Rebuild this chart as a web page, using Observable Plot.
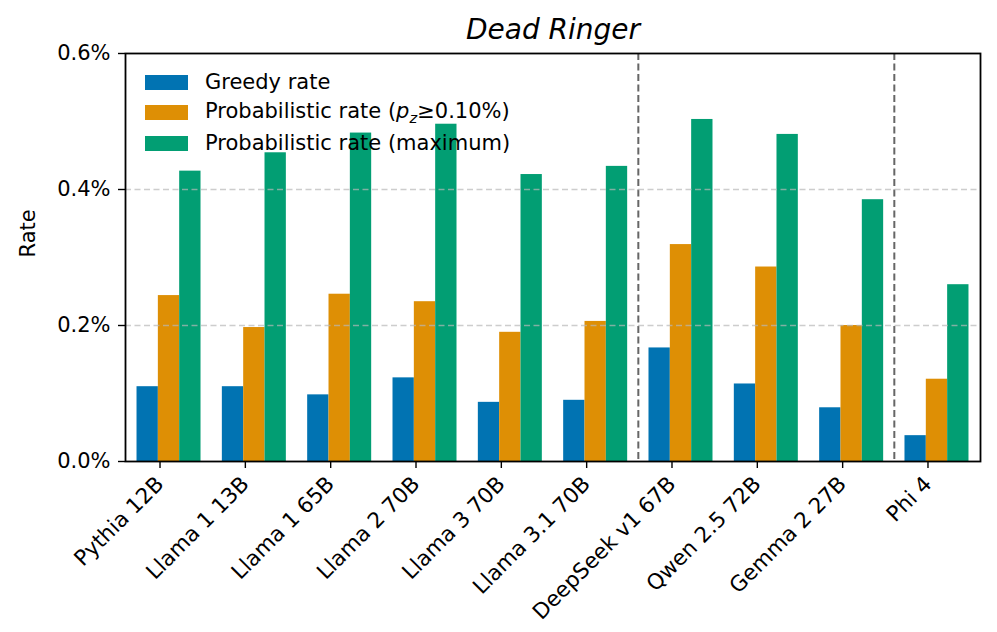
<!DOCTYPE html>
<html>
<head>
<meta charset="utf-8">
<script src="https://cdn.jsdelivr.net/npm/d3@7"></script>
<script src="https://cdn.jsdelivr.net/npm/@observablehq/plot@0.6"></script>
<style>
  body { margin: 0; background: #fff; font-family: "DejaVu Sans", sans-serif; }
  #wrap { position: relative; width: 997px; height: 632px; }
  #legend { position: absolute; left: 145px; top: 67px; font-size: 21px; color: #000; }
  .row { display: flex; align-items: center; height: 30.5px; }
  .sw { width: 43px; height: 15px; margin-right: 17px; }
</style>
</head>
<body>
<div id="wrap"><div id="legend"></div></div>
<script>
const title = "Dead Ringer";
const models = ["Pythia 12B", "Llama 1 13B", "Llama 1 65B", "Llama 2 70B", "Llama 3 70B",
  "Llama 3.1 70B", "DeepSeek v1 67B", "Qwen 2.5 72B", "Gemma 2 27B", "Phi 4"];
const greedyRate = [0.110, 0.110, 0.098, 0.123, 0.087, 0.090, 0.167, 0.114, 0.079, 0.038];
const probThresholdRate = [0.244, 0.197, 0.246, 0.235, 0.190, 0.206, 0.319, 0.286, 0.200, 0.121];
const probMaxRate = [0.427, 0.454, 0.483, 0.496, 0.422, 0.434, 0.503, 0.481, 0.385, 0.260];
const seriesNames = ["Greedy rate", "Probabilistic rate (p_z≥0.10%)", "Probabilistic rate (maximum)"];
const seriesLegendHtml = ["Greedy rate", "Probabilistic rate (<i>p<sub style='font-size:0.7em'>z</sub></i>≥0.10%)", "Probabilistic rate (maximum)"];
const seriesColors = ["#0173b2", "#de8f05", "#029e73"];
const yTicks = [0, 0.2, 0.4, 0.6];
const yGrid = [0.2, 0.4];
const groupBreaksAfter = ["Llama 3.1 70B", "Gemma 2 27B"];

const seriesValues = [greedyRate, probThresholdRate, probMaxRate];
const barW = 0.25;
const rows = models.flatMap((m, i) => seriesValues.map((vals, k) => ({
  model: m, i, k, series: seriesNames[k], value: vals[i]
})));
const breaks = groupBreaksAfter.map(m => models.indexOf(m) + 0.5);
const idx = models.map((m, i) => i);

const chart = Plot.plot({
  width: 997,
  height: 632,
  marginLeft: 125,
  marginRight: 17,
  marginTop: 53,
  marginBottom: 171,
  style: { fontFamily: "DejaVu Sans, sans-serif", fontSize: "21px", color: "#000", background: "#fff" },
  x: { type: "linear", domain: [-0.51, models.length - 0.49] },
  y: { domain: [0, 0.6] },
  color: { domain: seriesNames, range: seriesColors },
  marks: [
    Plot.rect(rows, {
      x1: d => d.i + (d.k - 1) * barW - barW / 2,
      x2: d => d.i + (d.k - 1) * barW + barW / 2,
      y1: 0, y2: "value", fill: "series"
    }),
    Plot.ruleX(breaks, { stroke: "#666", strokeWidth: 2, strokeDasharray: "7,3.5" }),
    Plot.gridY(yGrid, { stroke: "#b8b8b8", strokeOpacity: 0.7, strokeWidth: 1.4, strokeDasharray: "6,3.5" }),
    Plot.axisY(yTicks, {
      tickFormat: d => d.toFixed(1) + "%", tickSize: 7, tickPadding: 8, label: null,
      stroke: "#000", strokeWidth: 1.4, fontSize: 21
    }),
    Plot.axisX(idx, {
      tickFormat: i => models[i], tickSize: 7, tickPadding: 12, tickRotate: -45, dx: -9,
      textAnchor: "end", label: null, stroke: "#000", strokeWidth: 1.4, fontSize: 21.5
    }),
    Plot.frame({ stroke: "#000", strokeWidth: 1.8 }),
    Plot.text(["Rate"], { frameAnchor: "left", dx: -97, rotate: -90, fontSize: 21 }),
    Plot.text([title], { frameAnchor: "top", dy: -15, lineAnchor: "bottom", fontSize: 28, fontStyle: "italic" })
  ]
});
document.getElementById("wrap").prepend(chart);

const legend = document.getElementById("legend");
seriesLegendHtml.forEach((h, k) => {
  const row = document.createElement("div");
  row.className = "row";
  row.innerHTML = `<div class="sw" style="background:${seriesColors[k]}"></div><span>${h}</span>`;
  legend.appendChild(row);
});
</script>
</body>
</html>
